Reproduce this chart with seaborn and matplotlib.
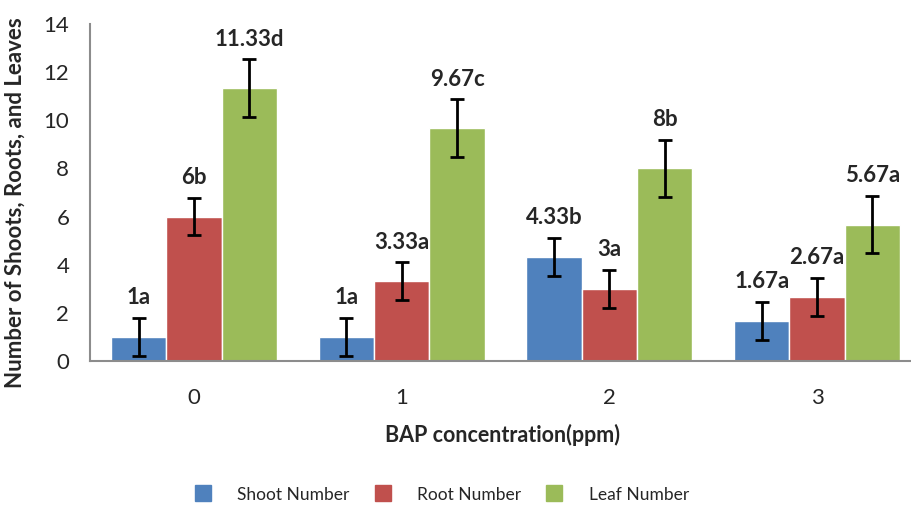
import numpy as np
import pandas as pd
import matplotlib
matplotlib.use("Agg")
import matplotlib.pyplot as plt
import seaborn as sns
from matplotlib.lines import Line2D

# data
concentrations = ["0", "1", "2", "3"]
series = ["Shoot Number", "Root Number", "Leaf Number"]
shoot = [1, 1, 4.33, 1.67]
root = [6, 3.33, 3, 2.67]
leaf = [11.33, 9.67, 8, 5.67]
shoot_err = [0.8, 0.8, 0.78, 0.8]
root_err = [0.78, 0.78, 0.8, 0.78]
leaf_err = [1.2, 1.2, 1.2, 1.2]
shoot_labels = ["1a", "1a", "4.33b", "1.67a"]
root_labels = ["6b", "3.33a", "3a", "2.67a"]
leaf_labels = ["11.33d", "9.67c", "8b", "5.67a"]

colors = ["#4F81BD", "#C0504D", "#9BBB59"]

sns.set_style("white")
plt.rcParams["font.family"] = ["Lato", "DejaVu Sans"]

df = pd.DataFrame({
    "conc": concentrations * 3,
    "value": shoot + root + leaf,
    "series": [s for s in series for _ in concentrations],
})
errs = [shoot_err, root_err, leaf_err]
labels = [shoot_labels, root_labels, leaf_labels]

fig = plt.figure(figsize=(9.11, 5.08), dpi=100)
ax = fig.add_axes([0.099, 0.289, 0.905, 0.664])

sns.barplot(data=df, x="conc", y="value", hue="series", palette=colors,
            errorbar=None, width=0.8, ax=ax, legend=False, saturation=1)

for cont, err, labs in zip(ax.containers, errs, labels):
    xs = [p.get_x() + p.get_width() / 2 for p in cont.patches]
    hs = [p.get_height() for p in cont.patches]
    ax.errorbar(xs, hs, yerr=err, fmt="none", ecolor="black",
                elinewidth=2, capsize=5, capthick=2)
    for x, h, e, t in zip(xs, hs, err, labs):
        ax.text(x, h + e + 0.4, t, ha="center", va="bottom",
                fontsize=16, fontweight="bold")

ax.set_ylim(0, 14)
ax.set_xlim(-0.5, 3.47)
ax.set_yticks(np.arange(0, 15, 2))
ax.tick_params(axis="both", length=0, labelsize=16)
ax.tick_params(axis="y", pad=15)
ax.tick_params(axis="x", pad=19)
for s in ["top", "right"]:
    ax.spines[s].set_visible(False)
for s in ["left", "bottom"]:
    ax.spines[s].set_color("#8c8c8c")
    ax.spines[s].set_linewidth(1.5)

ax.set_xlabel("BAP concentration(ppm)", fontsize=15.5, fontweight="bold", labelpad=12)
ax.set_ylabel("Number of Shoots, Roots, and Leaves", fontsize=16,
              fontweight="bold")
ax.yaxis.set_label_coords(-0.078, 0.47)

handles = [Line2D([], [], marker="s", linestyle="none", markersize=12,
                  markerfacecolor=c, markeredgecolor=c) for c in colors]
fig.legend(handles, series, loc="lower center", ncol=3, frameon=False,
           fontsize=12.5, bbox_to_anchor=(0.48, -0.02), columnspacing=0.9,
           handletextpad=1.0)

fig.savefig("out.png", dpi=100)
